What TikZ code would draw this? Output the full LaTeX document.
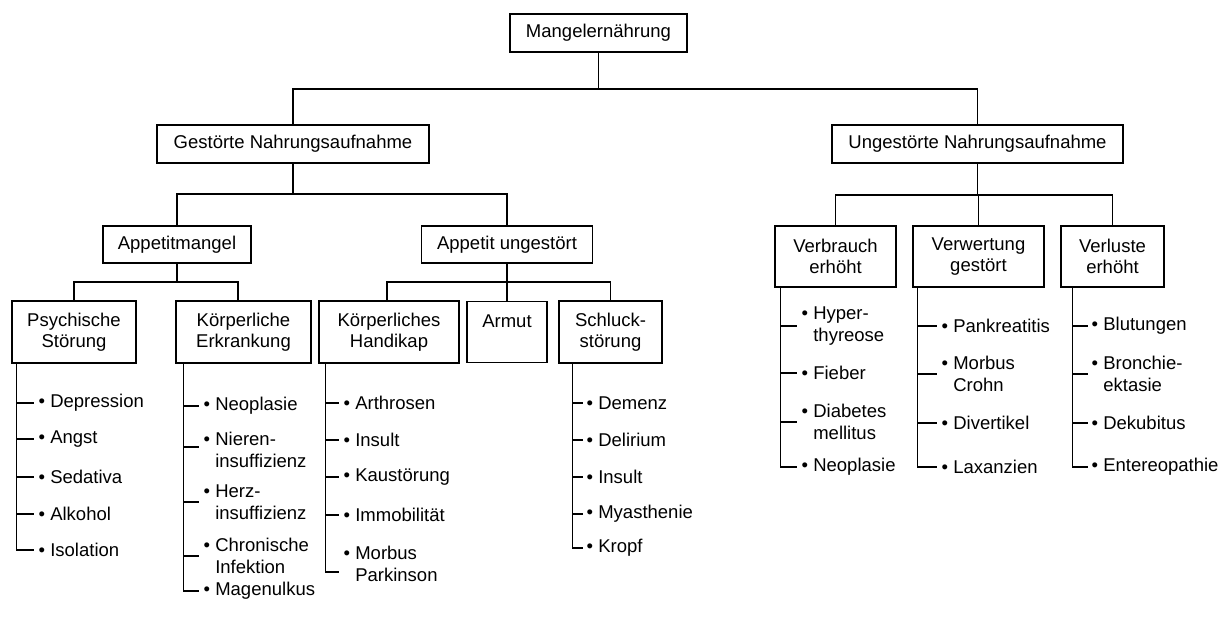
\documentclass[tikz,border=0pt]{standalone}
\usepackage{fontspec}
\setmainfont{Liberation Sans}
\usetikzlibrary{calc}
\newcommand\dfont{\fontsize{18.5}{21.5}\selectfont}
\newcommand\blt{\textbullet\ }
\newcommand\bhang{\hphantom{\textbullet\ }}
\begin{document}
\begin{tikzpicture}[x=1pt,y=-1pt,
 box/.style={draw,line width=1.2pt,align=center,inner sep=0pt,font=\dfont},
 itm/.style={anchor=west,align=left,inner sep=0pt,font=\dfont},
 ln/.style={line width=1.2pt},
 lst/.style={line width=1.8pt}]
\useasboundingbox (0,0) rectangle (1223,619);
% boxes
\node[box,minimum width=177pt,minimum height=38pt] (root) at (598.5,33) {Mangelernährung};
\node[box,minimum width=272pt,minimum height=38pt] (gest) at (293,144) {Gestörte Nahrungsaufnahme};
\node[box,minimum width=291pt,minimum height=38pt] (unge) at (977.5,144) {Ungestörte Nahrungsaufnahme};
\node[box,minimum width=148pt,minimum height=37pt] (appm) at (177,244.5) {Appetitmangel};
\node[box,minimum width=171pt,minimum height=37pt] (appu) at (507,244.5) {Appetit ungestört};
\node[box,minimum width=124pt,minimum height=62pt] (psy) at (74,332) {Psychische\\Störung};
\node[box,minimum width=135pt,minimum height=62pt] (kerk) at (243.5,332) {Körperliche\\Erkrankung};
\node[box,minimum width=140pt,minimum height=62pt] (hand) at (389,332) {Körperliches\\Handikap};
\node[box,minimum width=80pt,minimum height=61pt] (armut) at (507,332) {Armut\\~};
\node[box,minimum width=103pt,minimum height=62pt] (schl) at (610.5,332) {Schluck-\\störung};
\node[box,minimum width=121pt,minimum height=61pt] (verb) at (835.5,256.5) {Verbrauch\\erhöht};
\node[box,minimum width=131pt,minimum height=61pt] (verw) at (978.5,256.5) {Verwertung\\gestört};
\node[box,minimum width=103pt,minimum height=61pt] (verl) at (1112.5,256.5) {Verluste\\erhöht};
% bus levels
\coordinate (b1) at (0,89);
\coordinate (b2) at (0,194);
\coordinate (b3) at (0,195);
\coordinate (b4) at (0,282);
\draw[ln] (root.south) -- (root.south |- b1);
\draw[ln] (gest.north) -- (gest.north |- b1) -| (unge.north);
\draw[ln] (gest.south) -- (gest.south |- b2);
\draw[ln] (appm.north) -- (appm.north |- b2) -| (appu.north);
\draw[ln] (unge.south) -- (unge.south |- b3);
\draw[ln] (verb.north) -- (verb.north |- b3) -| (verl.north);
\draw[ln] (verw.north) -- (verw.north |- b3);
\draw[ln] (appm.south) -- (appm.south |- b4);
\coordinate (kin) at ($(kerk.north)+(-5.5,0)$);
\draw[ln] (psy.north) -- (psy.north |- b4) -| (kin);
\draw[ln] (appu.south) -- (appu.south |- b4);
\coordinate (hin) at ($(hand.north)+(-2,0)$);
\draw[ln] (hin) -- (hin |- b4) -| (schl.north);
\draw[ln] (armut.north) -- (armut.north |- b4);
% Psychische list
\node[itm] (p1) at (38.5,403) {\blt Depression};
\node[itm] (p2) at (38.5,439) {\blt Angst};
\node[itm] (p3) at (38.5,477) {\blt Sedativa};
\node[itm] (p4) at (38.5,514) {\blt Alkohol};
\node[itm] (p5) at (38.5,550) {\blt Isolation};
\coordinate (pt) at ($(psy.south west)+(5,0)$);
\foreach \i in {1,...,4} \draw[ln] (pt |- p\i.west) -- ($(p\i.west)+(-5,0)$);
\draw[lst] (pt) -- (pt |- p5.west) -- ($(p5.west)+(-5,0)$);
% Koerperliche Erkrankung list
\node[itm] (k1) at (203.5,406) {\blt Neoplasie};
\node[itm] (k2) at (203.5,450) {\blt Nieren-\\\bhang insuffizienz};
\node[itm] (k3) at (203.5,502) {\blt Herz-\\\bhang insuffizienz};
\node[itm] (k4) at (203.5,556) {\blt Chronische\\\bhang Infektion};
\node[itm] (k5) at (203.5,591) {\blt Magenulkus};
\coordinate (kt) at ($(kerk.south west)+(8,0)$);
\draw[ln] (kt |- k1.west) -- ($(k1.west)+(-5,0)$);
\draw[ln] ($(kt |- k2.west)+(0,-3)$) -- ($(k2.west)+(-5,-3)$);
\draw[ln] (kt |- k3.west) -- ($(k3.west)+(-5,0)$);
\draw[ln] (kt |- k4.west) -- ($(k4.west)+(-5,0)$);
\draw[lst] (kt) -- (kt |- k5.west) -- ($(k5.west)+(-5,0)$);
% Koerperliches Handikap list
\node[itm] (h1) at (343.5,403) {\blt Arthrosen};
\node[itm] (h2) at (343.5,440) {\blt Insult};
\node[itm] (h3) at (343.5,477) {\blt Kaustörung};
\node[itm] (h4) at (343.5,515) {\blt Immobilität};
\node[itm] (h5) at (343.5,564) {\blt Morbus\\\bhang Parkinson};
\coordinate (ht) at ($(hand.south west)+(7,0)$);
\foreach \i in {1,...,4} \draw[ln] (ht |- h\i.west) -- ($(h\i.west)+(-5,0)$);
\draw[lst] (ht) -- ($(ht |- h5.west)+(0,8)$) -- ($(h5.west)+(-5,8)$);
% Schluckstoerung list
\node[itm] (s1) at (586.5,403) {\blt Demenz};
\node[itm] (s2) at (586.5,440) {\blt Delirium};
\node[itm] (s3) at (586.5,477) {\blt Insult};
\node[itm] (s4) at (586.5,514) {\blt Myasthenie};
\node[itm] (s5) at (586.5,548) {\blt Kropf};
\coordinate (st) at ($(schl.south west)+(14,0)$);
\foreach \i in {1,...,4} \draw[ln] (st |- s\i.west) -- ($(s\i.west)+(-4,0)$);
\draw[lst] (st) -- (st |- s5.west) -- ($(s5.west)+(-4,0)$);
% Verbrauch list
\node[itm] (v1) at (801.5,326) {\blt Hyper-\\\bhang thyreose};
\node[itm] (v2) at (801.5,373) {\blt Fieber};
\node[itm] (v3) at (801.5,422) {\blt Diabetes\\\bhang mellitus};
\node[itm] (v4) at (801.5,467) {\blt Neoplasie};
\coordinate (vt) at ($(verb.south west)+(6,0)$);
\foreach \i in {1,...,3} \draw[ln] (vt |- v\i.west) -- ($(v\i.west)+(-5,0)$);
\draw[lst] (vt) -- (vt |- v4.west) -- ($(v4.west)+(-5,0)$);
% Verwertung list
\node[itm] (w1) at (941.5,326) {\blt Pankreatitis};
\node[itm] (w2) at (941.5,374) {\blt Morbus\\\bhang Crohn};
\node[itm] (w3) at (941.5,423) {\blt Divertikel};
\node[itm] (w4) at (941.5,467) {\blt Laxanzien};
\coordinate (wt) at ($(verw.south west)+(5,0)$);
\foreach \i in {1,...,3} \draw[ln] (wt |- w\i.west) -- ($(w\i.west)+(-5,0)$);
\draw[lst] (wt) -- (wt |- w4.west) -- ($(w4.west)+(-5,0)$);
% Verluste list
\node[itm] (l1) at (1091.5,326) {\blt Blutungen};
\node[itm] (l2) at (1091.5,374) {\blt Bronchie-\\\bhang ektasie};
\node[itm] (l3) at (1091.5,423) {\blt Dekubitus};
\node[itm] (l4) at (1091.5,467) {\blt Entereopathie};
\coordinate (lt) at ($(verl.south west)+(12,0)$);
\foreach \i in {1,...,3} \draw[ln] (lt |- l\i.west) -- ($(l\i.west)+(-4,0)$);
\draw[lst] (lt) -- (lt |- l4.west) -- ($(l4.west)+(-4,0)$);
\end{tikzpicture}
\end{document}
